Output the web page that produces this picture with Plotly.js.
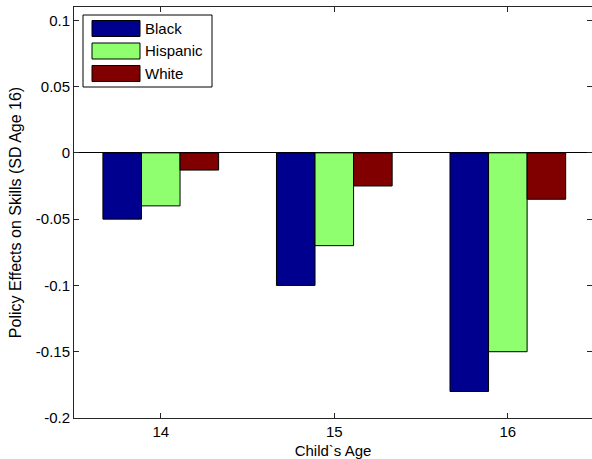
<!DOCTYPE html>
<html>
<head>
<meta charset="utf-8">
<script src="https://cdn.plot.ly/plotly-3.0.1.min.js"></script>
<style>body{margin:0;padding:0;background:#fff}#chart{width:592px;height:459px}</style>
</head>
<body>
<div id="chart"></div>
<script>
var ages = [14, 15, 16];
var seriesNames = ["Black", "Hispanic", "White"];
var black = [-0.05, -0.10, -0.18];
var hispanic = [-0.04, -0.07, -0.15];
var white = [-0.013, -0.025, -0.035];
var seriesValues = [black, hispanic, white];
var seriesColors = ["#00008F", "#8FFF70", "#800000"];
var yTicks = [-0.2, -0.15, -0.1, -0.05, 0, 0.05, 0.1];
var yTickText = ["-0.2", "-0.15", "-0.1", "-0.05", "0", "0.05", "0.1"];

var W = 592, H = 459;
var M = {l: 74, r: 0, t: 7, b: 41};
var pw = W - M.l - M.r, ph = H - M.t - M.b;
function px2x(p) { return (p - M.l) / pw; }
function px2y(p) { return 1 - (p - M.t) / ph; }

var traces = seriesNames.map(function (n, i) {
  return {
    type: "bar", name: n, x: ages, y: seriesValues[i],
    marker: {color: seriesColors[i], line: {color: "#000", width: 1}},
    showlegend: false, hoverinfo: "x+y"
  };
});

var fam = "Liberation Sans, Arial, sans-serif";
var tickFont = {family: fam, size: 15, color: "#000"};
var legFont = {family: fam, size: 15, color: "#000"};
var xTitleFont = {family: fam, size: 15, color: "#000"};
var yTitleFont = {family: fam, size: 16, color: "#000"};
var shapes = [], annotations = [];
// custom MATLAB-style legend box
shapes.push({type: "rect", xref: "paper", yref: "paper",
  x0: px2x(83), x1: px2x(212), y0: px2y(87), y1: px2y(15),
  line: {color: "#000", width: 1}, fillcolor: "#fff", layer: "above"});
seriesNames.forEach(function (n, i) {
  var cy = 28.5 + i * 22.5;
  shapes.push({type: "rect", xref: "paper", yref: "paper",
    x0: px2x(92), x1: px2x(140), y0: px2y(cy + 8), y1: px2y(cy - 8),
    line: {color: "#000", width: 1}, fillcolor: seriesColors[i], layer: "above"});
  annotations.push({xref: "paper", yref: "paper", x: px2x(143), y: px2y(cy),
    xanchor: "left", yanchor: "middle", text: n, showarrow: false, font: legFont});
});

var layout = {
  width: W, height: H, margin: M,
  paper_bgcolor: "#fff", plot_bgcolor: "#fff",
  font: tickFont, barmode: "group", bargap: 1/3, bargroupgap: 0,
  xaxis: {
    range: [13.5, 16.485], tickvals: ages, ticktext: ages.map(String),
    ticks: "inside", ticklen: 5, tickcolor: "#262626",
    showline: true, linecolor: "#262626", linewidth: 1, mirror: "ticks",
    showgrid: false, zeroline: false, tickfont: tickFont,
    title: {text: "Child`s Age", font: xTitleFont, standoff: 6}
  },
  yaxis: {
    range: [-0.2, 0.11], tickvals: yTicks, ticktext: yTickText,
    ticks: "inside", ticklen: 5, tickcolor: "#262626",
    showline: true, linecolor: "#262626", linewidth: 1, mirror: "ticks",
    showgrid: false, zeroline: true, zerolinecolor: "#000", zerolinewidth: 1,
    tickfont: tickFont,
    title: {text: "Policy Effects on Skills (SD Age 16)", font: yTitleFont, standoff: 10}
  },
  shapes: shapes, annotations: annotations
};
Plotly.newPlot("chart", traces, layout, {displayModeBar: false, staticPlot: true});
</script>
</body>
</html>
